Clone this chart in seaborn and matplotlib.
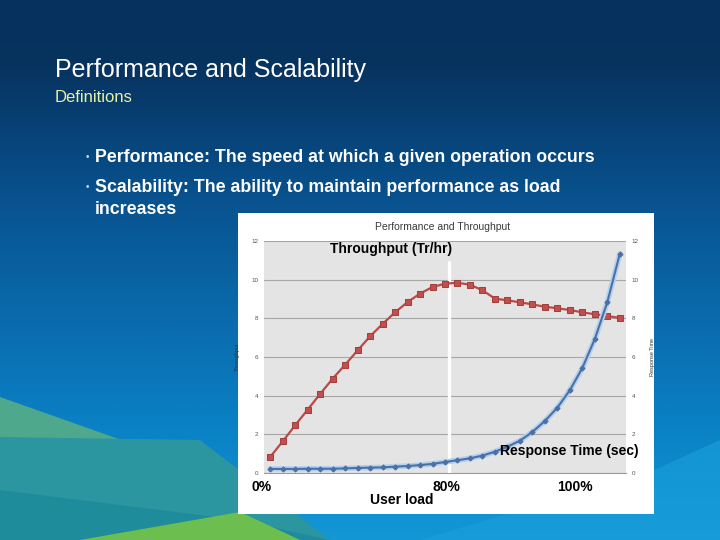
import numpy as np
import pandas as pd
import seaborn as sns
import matplotlib.pyplot as plt
from matplotlib.patches import Rectangle, Polygon
from matplotlib.colors import LinearSegmentedColormap

# Data (29 user-load steps)
load_step = list(range(1, 30))
throughput = [0.83, 1.64, 2.47, 3.28, 4.09, 4.88, 5.60, 6.34, 7.07, 7.71,
              8.31, 8.84, 9.28, 9.62, 9.79, 9.84, 9.74, 9.45, 9.02, 8.93,
              8.83, 8.72, 8.60, 8.52, 8.43, 8.31, 8.21, 8.12, 8.02]
response_time = [0.21, 0.21, 0.21, 0.22, 0.22, 0.22, 0.24, 0.26, 0.28, 0.29,
                 0.33, 0.36, 0.41, 0.47, 0.57, 0.66, 0.76, 0.90, 1.10, 1.36,
                 1.67, 2.12, 2.69, 3.38, 4.28, 5.43, 6.93, 8.83, 11.33]
y_ticks = [0, 2, 4, 6, 8, 10, 12]
marker_80 = 15.35  # white line that marks 80% load

df = pd.DataFrame({"load": load_step, "throughput": throughput,
                   "response": response_time})

sns.set_style("white")
plt.rcParams['font.family'] = ['Liberation Sans', 'DejaVu Sans']

W, H = 720, 540
fig = plt.figure(figsize=(7.2, 5.4), dpi=100)


def px(x, y):
    return x / W, 1 - y / H


# slide background
bg = fig.add_axes([0, 0, 1, 1])
bg.set_xlim(0, W)
bg.set_ylim(H, 0)
bg.axis("off")
cmap = LinearSegmentedColormap.from_list(
    "slide", [(0, "#06305e"), (0.12, "#07335f"), (0.35, "#08508c"),
              (0.6, "#0a6cae"), (0.8, "#0a82c6"), (1, "#1497d6")])
grad = np.linspace(0, 1, 256).reshape(-1, 1)
bg.imshow(grad, cmap=cmap, aspect="auto", extent=[0, W, H, 0])
bg.add_patch(Polygon([(0, 397), (240, 482), (330, 540), (0, 540)],
                     color="#4ea88c", lw=0))
bg.add_patch(Polygon([(0, 437), (200, 440), (330, 540), (0, 540)],
                     color="#2c96a0", lw=0))
bg.add_patch(Polygon([(0, 490), (240, 520), (330, 540), (0, 540)],
                     color="#1f8c9c", lw=0))
bg.add_patch(Polygon([(80, 540), (240, 512), (300, 540)],
                     color="#6cbf4e", lw=0))
bg.add_patch(Polygon([(420, 540), (654, 470), (720, 440), (720, 540)],
                     color="#1aa0dc", lw=0, alpha=0.6))
bg.add_patch(Rectangle((238, 213), 416, 301, color="white", lw=0))

# slide text
fig.text(*px(55, 70), "Performance and Scalability", color="white",
         fontsize=18, va="center")
fig.text(*px(55, 98), "Definitions", color="#e8f2a4", fontsize=12,
         va="center")
for yy in (157, 187):
    fig.text(*px(86, yy), "•", color="#c8d8e8", fontsize=7, va="center")
fig.text(*px(95, 157), "Performance: The speed at which a given operation occurs",
         color="white", fontsize=12.8, fontweight="bold", va="center")
fig.text(*px(95, 187), "Scalability: The ability to maintain performance as load",
         color="white", fontsize=12.8, fontweight="bold", va="center")
fig.text(*px(95, 209), "increases", color="white", fontsize=12.8,
         fontweight="bold", va="center")

# chart
ax = fig.add_axes([264 / W, 1 - 473 / H, 362 / W, 232 / H])
ax.set_facecolor("#e4e4e4")
ax.set_xlim(0.5, 29.5)
ax.set_ylim(0, 12)
ax.set_yticks(y_ticks)
ax.grid(axis="y", color="#a6a6a6", lw=0.8)
ax.set_axisbelow(True)
for s in ("top", "right", "left"):
    ax.spines[s].set_visible(False)
ax.spines["bottom"].set_color("#9a9a9a")
ax.set_xticks(np.arange(0.5, 30, 1))
ax.set_xticklabels([])
ax.tick_params(axis="x", length=3, color="#9a9a9a", direction="out")
ax.tick_params(axis="y", length=0, labelsize=4.5, labelcolor="#555555", pad=4)

ax.axvline(marker_80, ymax=10.9 / 12, color="white", lw=2.4, zorder=3)

sns.lineplot(data=df, x="load", y="throughput", ax=ax, color="#b94a48",
             lw=1.6, marker="s", markersize=4.2, markerfacecolor="#c0504d",
             markeredgecolor="#a53f3e", zorder=4)
sns.lineplot(data=df, x="load", y="response", ax=ax, color="#b4d0ee",
             lw=4, zorder=4)
sns.lineplot(data=df, x="load", y="response", ax=ax, color="#4a70a6",
             lw=1.5, marker="D", markersize=2.6, markeredgecolor="#4a70a6",
             zorder=5)
ax.set_xlabel("")
ax.set_ylabel("Throughput", fontsize=4, color="#333333", labelpad=8)

ax2 = ax.twinx()
ax2.set_ylim(0, 12)
ax2.set_yticks(y_ticks)
for s in ax2.spines.values():
    s.set_visible(False)
ax2.tick_params(axis="y", length=0, labelsize=4.5, labelcolor="#555555", pad=4)
ax2.set_ylabel("Response Time", fontsize=4, color="#333333", labelpad=8)

fig.text(*px(443, 227), "Performance and Throughput", color="#3a3a3a",
         fontsize=7.5, ha="center", va="center")

# overlay labels
bold = dict(color="black", fontweight="bold", va="center")
fig.text(*px(330, 249), "Throughput (Tr/hr)", fontsize=10, **bold)
fig.text(*px(500, 451), "Response Time (sec)", fontsize=10, **bold)
fig.text(*px(262, 487), "0%", fontsize=10, ha="center", **bold)
fig.text(*px(446, 487), "80%", fontsize=10, ha="center", **bold)
fig.text(*px(575, 487), "100%", fontsize=10, ha="center", **bold)
fig.text(*px(402, 500), "User load", fontsize=10, ha="center", **bold)

fig.savefig("out.png", dpi=100)
